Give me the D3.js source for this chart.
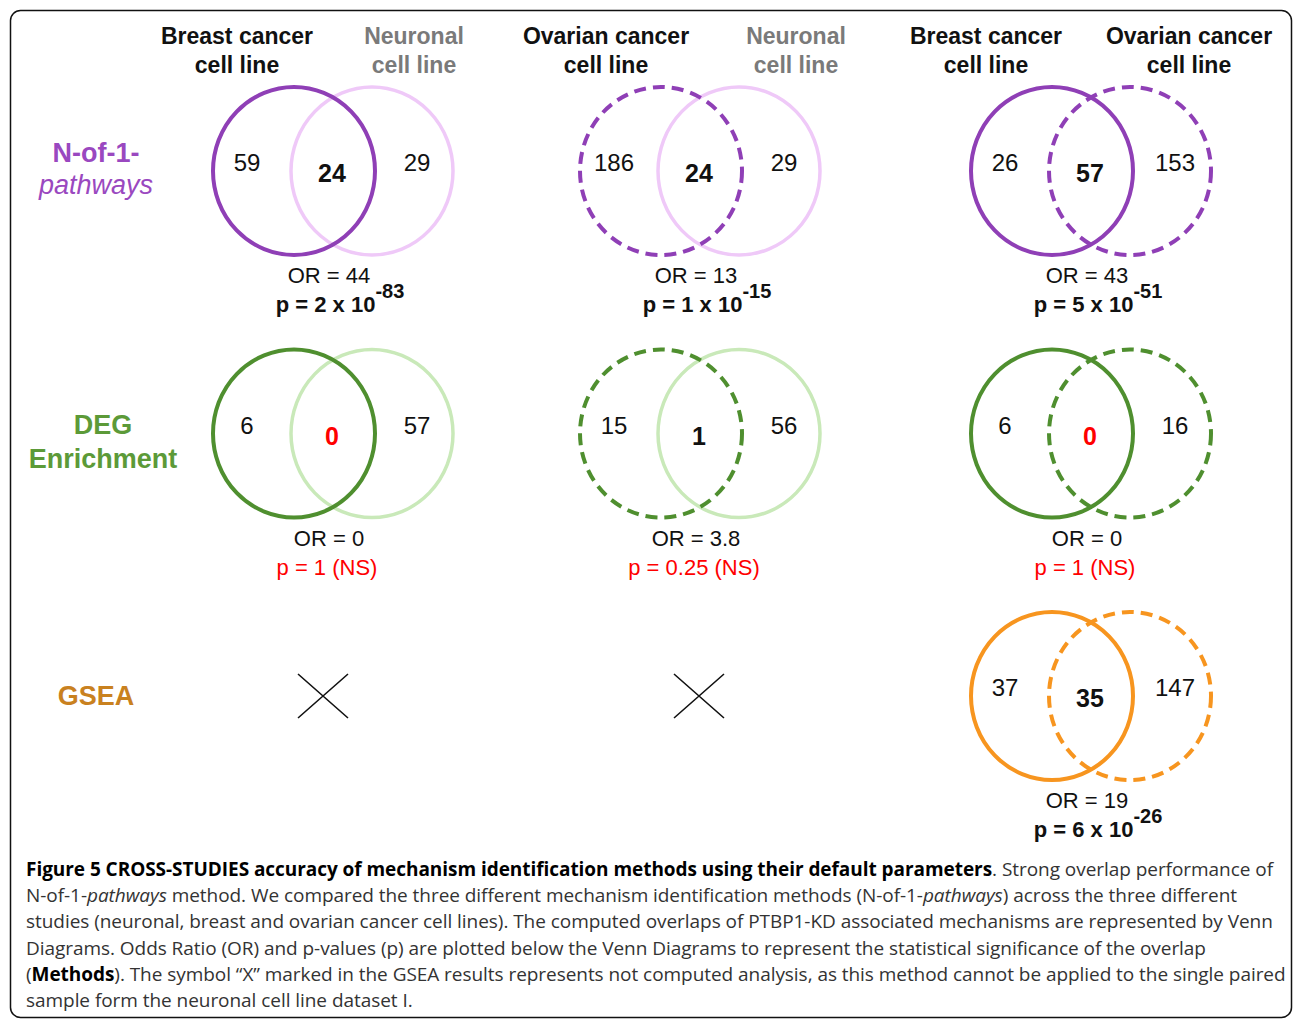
<!DOCTYPE html>
<html>
<head>
<meta charset="utf-8">
<script src="https://cdn.jsdelivr.net/npm/d3@7.9.0/dist/d3.min.js"></script>
<style>
  body { margin: 0; background: #fff; }
  svg { display: block; }
</style>
</head>
<body>
<div id="chart"></div>
<script>
// --- data ---
const columns = ['breast-neuronal', 'ovarian-neuronal', 'breast-ovarian'];
const rows = ['nof1', 'deg', 'gsea'];

// which cell line sits on the left / right of each column
const leftSets = ['breast', 'ovarian', 'breast'];
const rightSets = ['neuronal', 'neuronal', 'ovarian'];
const headerLines = {
  breast: ['Breast cancer', 'cell line'],
  ovarian: ['Ovarian cancer', 'cell line'],
  neuronal: ['Neuronal', 'cell line'],
};

const rowLabels = [
  [{ t: 'N-of-1-', italic: false }, { t: 'pathways', italic: true }],
  [{ t: 'DEG', italic: false }, { t: 'Enrichment', italic: false }],
  [{ t: 'GSEA', italic: false }],
];

// null = analysis not computed ("X")
const leftOnly = [[59, 186, 26], [6, 15, 6], [null, null, 37]];
const overlap = [[24, 24, 57], [0, 1, 0], [null, null, 35]];
const rightOnly = [[29, 29, 153], [57, 56, 16], [null, null, 147]];
const oddsRatio = [['44', '13', '43'], ['0', '3.8', '0'], [null, null, '19']];
// p values: [mantissa, exponent] or a plain string when not significant
const pValues = [
  [['2', '-83'], ['1', '-15'], ['5', '-51']],
  ['1 (NS)', '0.25 (NS)', '1 (NS)'],
  [null, null, ['6', '-26']],
];

const captionLines = [
  [['b', 'Figure 5 CROSS-STUDIES accuracy of mechanism identification methods using their default parameters'], ['n', '. Strong overlap performance of']],
  [['n', 'N-of-1-'], ['i', 'pathways'], ['n', ' method. We compared the three different mechanism identification methods (N-of-1-'], ['i', 'pathways'], ['n', ') across the three different']],
  [['n', 'studies (neuronal, breast and ovarian cancer cell lines). The computed overlaps of PTBP1-KD associated mechanisms are represented by Venn']],
  [['n', 'Diagrams. Odds Ratio (OR) and p-values (p) are plotted below the Venn Diagrams to represent the statistical significance of the overlap']],
  [['n', '('], ['b', 'Methods'], ['n', '). The symbol \u201cX\u201d marked in the GSEA results represents not computed analysis, as this method cannot be applied to the single paired']],
  [['n', 'sample form the neuronal cell line dataset I.']],
];

// --- styling ---
const rowColors = {
  nof1: { dark: '#8f3fb6', light: '#efc9f8', label: '#9a48c0' },
  deg: { dark: '#4f8f2f', light: '#c9e9b9', label: '#5c9a38' },
  gsea: { dark: '#f7951f', light: '#f7951f', label: '#c9811f' },
};
const setStyle = {
  breast: { tone: 'dark', dash: null },
  ovarian: { tone: 'dark', dash: '12,7' },
  neuronal: { tone: 'light', dash: null },
};
const headerShift = [[-96, 81], [-94, 96], [-105, 98]];
const labelShift = [[-9, 23], [0, 34], [9]];
const crossShift = [-10, -1, 0];

const width = 1293;
const height = 1020;
const font = '"Liberation Sans", Arial, Helvetica, sans-serif';

const x = d3.scaleOrdinal().domain(columns).range([333, 700, 1091]);
const y = d3.scalePoint().domain(rows).range([171, 696]);

const circleDx = 39;   // half the distance between the two circle centres
const rx = 81, ry = 84;

const svg = d3.select('#chart').append('svg')
  .attr('width', width)
  .attr('height', height)
  .attr('viewBox', `0 0 ${width} ${height}`);

// frame
svg.append('rect')
  .attr('x', 10.5).attr('y', 10.5)
  .attr('width', 1281).attr('height', 1007)
  .attr('rx', 10)
  .attr('fill', 'none')
  .attr('stroke', '#111')
  .attr('stroke-width', 1.5);

// column headers
const headers = svg.append('g').attr('font-family', font).attr('font-weight', 'bold').attr('font-size', 23).attr('text-anchor', 'middle');
columns.forEach((c, i) => {
  [[leftSets[i], headerShift[i][0]], [rightSets[i], headerShift[i][1]]].forEach(([set, dx]) => {
    const t = headers.append('text')
      .attr('x', x(c) + dx)
      .attr('y', 44)
      .attr('fill', set === 'neuronal' ? '#7a7a7a' : '#111');
    headerLines[set].forEach((line, k) => {
      t.append('tspan').attr('x', x(c) + dx).attr('y', 44 + k * 29).text(line);
    });
  });
});

// row labels
rows.forEach((r, ri) => {
  const t = svg.append('text')
    .attr('font-family', font)
    .attr('font-size', 27)
    .attr('text-anchor', 'middle')
    .attr('fill', rowColors[r].label);
  rowLabels[ri].forEach((l, k) => {
    t.append('tspan')
      .attr('x', ri === 1 ? 103 : 96)
      .attr('y', y(r) + labelShift[ri][k])
      .attr('font-weight', l.italic ? 'normal' : 'bold')
      .attr('font-style', l.italic ? 'italic' : 'normal')
      .text(l.t);
  });
});

// venn panels
rows.forEach((r, ri) => {
  columns.forEach((c, ci) => {
    const cx = x(c), cy = y(r);
    const g = svg.append('g').attr('font-family', font);

    if (leftOnly[ri][ci] === null) {
      // not computed
      const mx = cx + crossShift[ci];
      g.append('path')
        .attr('d', `M${mx - 25},${cy - 22}L${mx + 25},${cy + 22}M${mx + 25},${cy - 22}L${mx - 25},${cy + 22}`)
        .attr('stroke', '#111')
        .attr('stroke-width', 1.6)
        .attr('fill', 'none');
      return;
    }

    const sets = [
      { set: leftSets[ci], dx: -circleDx },
      { set: rightSets[ci], dx: circleDx },
    ];
    // light circles first so the dark outlines sit on top
    const ordered = sets.slice().sort((a, b) => (setStyle[a.set].tone === 'light' ? -1 : 1) - (setStyle[b.set].tone === 'light' ? -1 : 1));
    ordered.forEach(s => {
      const st = setStyle[s.set];
      g.append('ellipse')
        .attr('cx', cx + s.dx)
        .attr('cy', cy)
        .attr('rx', rx)
        .attr('ry', ry)
        .attr('fill', 'none')
        .attr('stroke', rowColors[r][st.tone])
        .attr('stroke-width', st.tone === 'light' ? 3.5 : 4)
        .attr('stroke-dasharray', st.dash);
    });

    g.append('text').attr('x', cx - 86).attr('y', cy).attr('text-anchor', 'middle')
      .attr('font-size', 24).attr('fill', '#111').text(leftOnly[ri][ci]);
    g.append('text').attr('x', cx + 84).attr('y', cy).attr('text-anchor', 'middle')
      .attr('font-size', 24).attr('fill', '#111').text(rightOnly[ri][ci]);
    g.append('text').attr('x', cx - 1).attr('y', cy + 11).attr('text-anchor', 'middle')
      .attr('font-size', 25).attr('font-weight', 'bold')
      .attr('fill', overlap[ri][ci] === 0 ? '#ff0000' : '#111')
      .text(overlap[ri][ci]);

    g.append('text').attr('x', cx - 4).attr('y', cy + 112).attr('text-anchor', 'middle')
      .attr('font-size', 22).attr('fill', '#111').text(`OR = ${oddsRatio[ri][ci]}`);

    const p = pValues[ri][ci];
    const pt = g.append('text').attr('y', cy + 141).attr('text-anchor', 'middle').attr('font-size', 22);
    if (typeof p === 'string') {
      pt.attr('x', cx - 6).attr('fill', '#ff0000').text(`p = ${p}`);
    } else {
      pt.attr('x', cx + 7).attr('fill', '#111').attr('font-weight', 'bold');
      pt.append('tspan').text(`p = ${p[0]} x 10`);
      pt.append('tspan').attr('dy', -14).attr('font-size', 20).text(p[1]);
    }
  });
});

// caption
const cap = svg.append('g').attr('font-family', '"Open Sans", "Noto Sans", sans-serif').attr('font-size', 19);
captionLines.forEach((line, li) => {
  const t = cap.append('text').attr('x', 26).attr('y', 876 + li * 26.2).attr('fill', '#333').attr('letter-spacing', -0.05);
  line.forEach(([kind, str]) => {
    t.append('tspan')
      .attr('font-weight', kind === 'b' ? 'bold' : 'normal')
      .attr('font-style', kind === 'i' ? 'italic' : 'normal')
      .attr('fill', kind === 'b' ? '#000' : '#333')
      .text(str);
  });
});
</script>
</body>
</html>
